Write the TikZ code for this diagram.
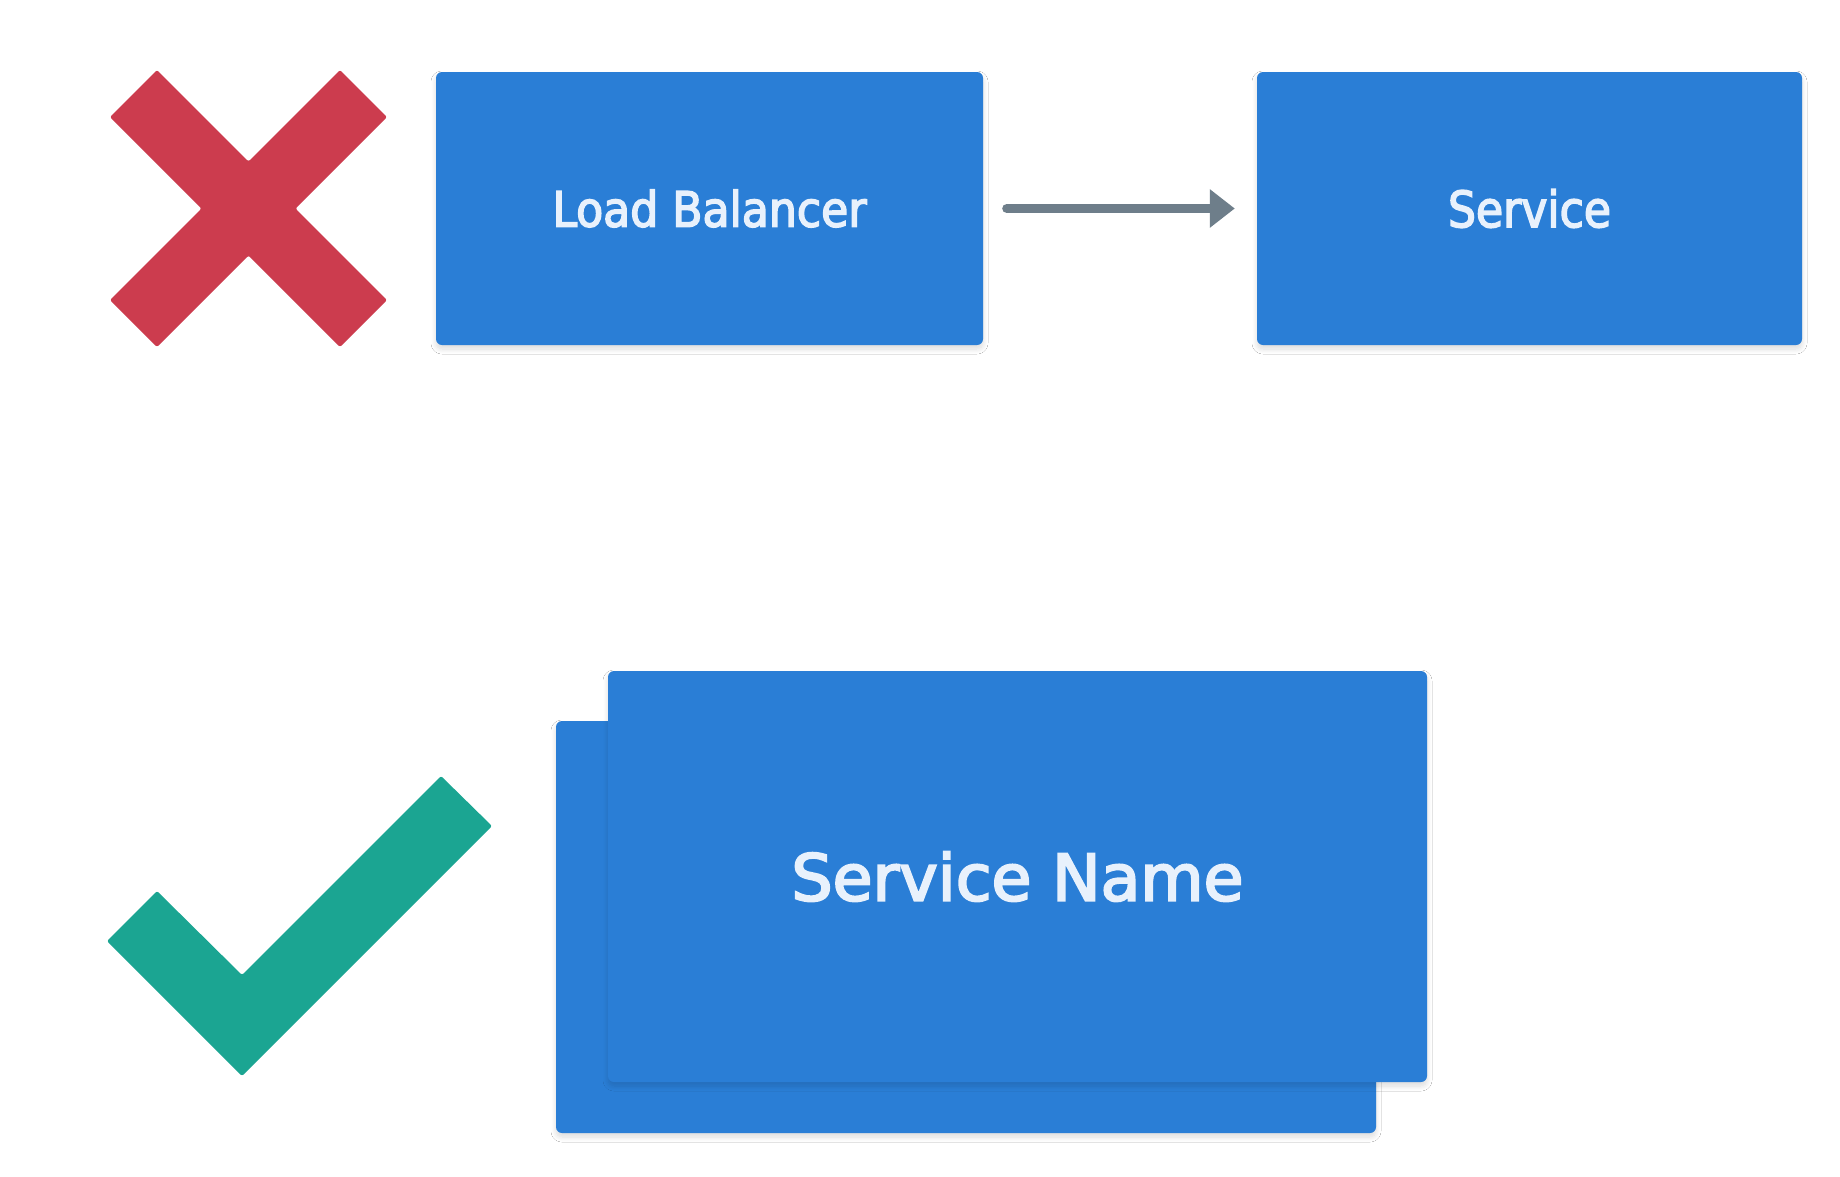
\documentclass[tikz,border=0pt]{standalone}
\usepackage{fontspec}
\setmainfont{DejaVu Sans Condensed}
\newfontfamily\boxfont{DejaVu Sans Condensed}[FakeBold=3]
\usetikzlibrary{shadows.blur,arrows.meta}
\definecolor{boxblue}{HTML}{2A7ED6}
\definecolor{xred}{HTML}{CC3C4E}
\definecolor{chkteal}{HTML}{1BA592}
\definecolor{arrowgray}{HTML}{6E7E8A}
\definecolor{txtwhite}{HTML}{E8F1FC}
\begin{document}
\begin{tikzpicture}[x=1pt,y=-1pt,
  bluebox/.style={fill=boxblue, rounded corners=6pt, inner sep=0pt, text=txtwhite, font=\boxfont,
    blur shadow={shadow xshift=0pt, shadow yshift=-4pt, shadow blur radius=5pt,
      shadow blur steps=10, shadow opacity=14}},
  connector/.style={arrowgray, line width=9pt, line cap=round,
    -{Triangle[length=25pt,width=37pt]}}]
\useasboundingbox[fill=white] (0,0) rectangle (1840,1176);

% red cross
\fill[xred, rounded corners=2pt] (157,70) -- (248.5,161.5) -- (340,70) -- (387,117) -- (295.5,208.5)
  -- (387,300) -- (340,347) -- (248.5,255.5) -- (157,347) -- (110,300) -- (201.5,208.5)
  -- (110,117) -- cycle;

% green check
\fill[chkteal, rounded corners=2pt] (107,941) -- (157,891) -- (242,975) -- (441,776) -- (492,826)
  -- (242,1076) -- cycle;

% top row
\node[bluebox, minimum width=547pt, minimum height=273pt] (lb) at (709.5,208.5)
  {\resizebox{314pt}{37pt}{Load Balancer}};
\node[bluebox, minimum width=545pt, minimum height=273pt] (svc) at (1529.5,208.5)
  {\resizebox{163pt}{38pt}{Service}};
\draw[connector, shorten <=23.5pt, shorten >=22pt] (lb.east) -- (svc.west);

% bottom stacked boxes
\node[bluebox, minimum width=820pt, minimum height=412pt] (back) at (966,927) {};
\node[bluebox, minimum width=819pt, minimum height=411pt] (front) at (1017.5,876.5)
  {\resizebox{452pt}{49pt}{Service Name}};
\end{tikzpicture}
\end{document}
